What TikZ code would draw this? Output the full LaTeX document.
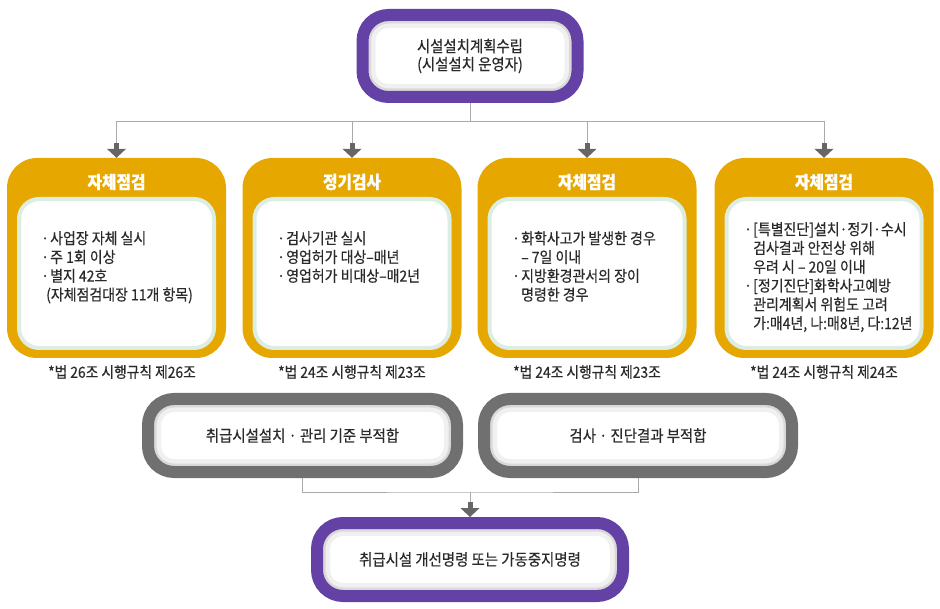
\documentclass[tikz,border=0pt]{standalone}
\usepackage{fontspec}
\setmainfont{Noto Sans CJK KR}[FakeStretch=0.9,FakeBold=0.4]
\usetikzlibrary{arrows.meta}
\definecolor{planpurple}{HTML}{6441A5}
\definecolor{checkorange}{HTML}{E6A800}
\definecolor{ringgray}{HTML}{707070}
\definecolor{linegray}{HTML}{AAAAAA}
\definecolor{arrowgray}{HTML}{666666}
\definecolor{glow}{HTML}{DCEDE3}
\definecolor{textdark}{HTML}{2A2A2A}
\newcommand\bul{\makebox[9pt][l]{·}}
\newcommand\ind{\hspace*{9pt}}
\tikzset{
  ring/.style={draw=#1, line width=12pt, fill=white, rounded corners=26pt,
    text=textdark, font=\fontsize{16}{18}\selectfont, align=center,
    path picture={
      \draw[rounded corners=26pt, line width=26pt, black!6]
        (path picture bounding box.south west) rectangle (path picture bounding box.north east);
      \draw[rounded corners=26pt, line width=17pt, black!15]
        (path picture bounding box.south west) rectangle (path picture bounding box.north east);}},
  chkbox/.style={fill=checkorange, rounded corners=30pt, minimum width=219pt,
    minimum height=200pt, inner sep=0pt},
  inbox/.style={fill=white, draw=glow, line width=4pt, rounded corners=20pt,
    minimum width=195pt, minimum height=149pt},
  title/.style={text=white, font=\fontsize{17.5}{19}\selectfont\bfseries},
  items/.style={anchor=north west, inner sep=0pt, align=left, text=textdark,
    font=\fontsize{15.5}{18.8}\selectfont},
  note/.style={text=textdark, font=\fontsize{15.3}{17}\selectfont},
  conn/.style={draw=linegray, line width=1pt},
  tip/.style={-{Rectangle[width=5pt,length=6pt,color=arrowgray,fill=arrowgray]
    Triangle[width=19pt,length=9pt,color=arrowgray,fill=arrowgray]}}
}
\begin{document}
\begin{tikzpicture}[x=1pt,y=-1pt]
\useasboundingbox (0,0) rectangle (940,609);
\node[ring=planpurple, minimum width=215pt, minimum height=82pt] (plan) at (470,56)
  {시설설치계획수립\\(시설설치 운영자)};
% four check columns
\node[chkbox] (chk1) at (116.5,258) {};
\node[chkbox] (chk2) at (352,258) {};
\node[chkbox] (chk3) at (587,258) {};
\node[chkbox] (chk4) at (824,258) {};
\node[title] (t1) at (116.5,182) {자체점검};
\node[title] (t2) at (352,182) {정기검사};
\node[title] (t3) at (587,182) {자체점검};
\node[title] (t4) at (824,182) {자체점검};
\node[inbox] (in1) at (116.5,273.5) {};
\node[inbox] (in2) at (352,273.5) {};
\node[inbox] (in3) at (587,273.5) {};
\node[inbox] (in4) at (824,273.5) {};
\node[items] (it1) at (41,231) {\bul 사업장 자체 실시\\\bul 주 1회 이상\\\bul 별지 42호\\\hspace*{5pt}(자체점검대장 11개 항목)};
\node[items] (it2) at (277,231) {\bul 검사기관 실시\\\bul 영업허가 대상–매년\\\bul 영업허가 비대상–매2년};
\node[items] (it3) at (512,231) {\bul 화학사고가 발생한 경우\\\ind – 7일 이내\\\bul 지방환경관서의 장이\\\ind 명령한 경우};
\node[items] (it4) at (744,222) {\bul [특별진단]설치·정기·수시\\\ind 검사결과 안전상 위해\\\ind 우려 시 – 20일 이내\\\bul [정기진단]화학사고예방\\\ind 관리계획서 위험도 고려\\\ind 가:매4년, 나:매8년, 다:12년};
\node[note] (fn1) at (122,372) {*법 26조 시행규칙 제26조};
\node[note] (fn2) at (352,372) {*법 24조 시행규칙 제23조};
\node[note] (fn3) at (587,372) {*법 24조 시행규칙 제23조};
\node[note] (fn4) at (824,372) {*법 24조 시행규칙 제24조};
% unsuitable results and order
\node[ring=ringgray, minimum width=309pt, minimum height=73pt] (bad1) at (302.5,435.5)
  {취급시설설치 · 관리 기준 부적합};
\node[ring=ringgray, minimum width=308pt, minimum height=73pt] (bad2) at (638,435.5)
  {검사 · 진단결과 부적합};
\node[ring=planpurple, minimum width=306pt, minimum height=73pt] (order) at (470,559.5)
  {취급시설 개선명령 또는 가동중지명령};
\coordinate (split) at (470,122);
\coordinate (merge) at (470,492);
\draw[conn] (plan.south) -- (split);
\foreach \i in {1,...,4}
  \draw[conn,tip] (split) -| (chk\i.north);
\draw[conn] (bad1.south) |- (merge) -| (bad2.south);
\draw[conn,tip] (merge) -- (order.north);
\end{tikzpicture}
\end{document}
